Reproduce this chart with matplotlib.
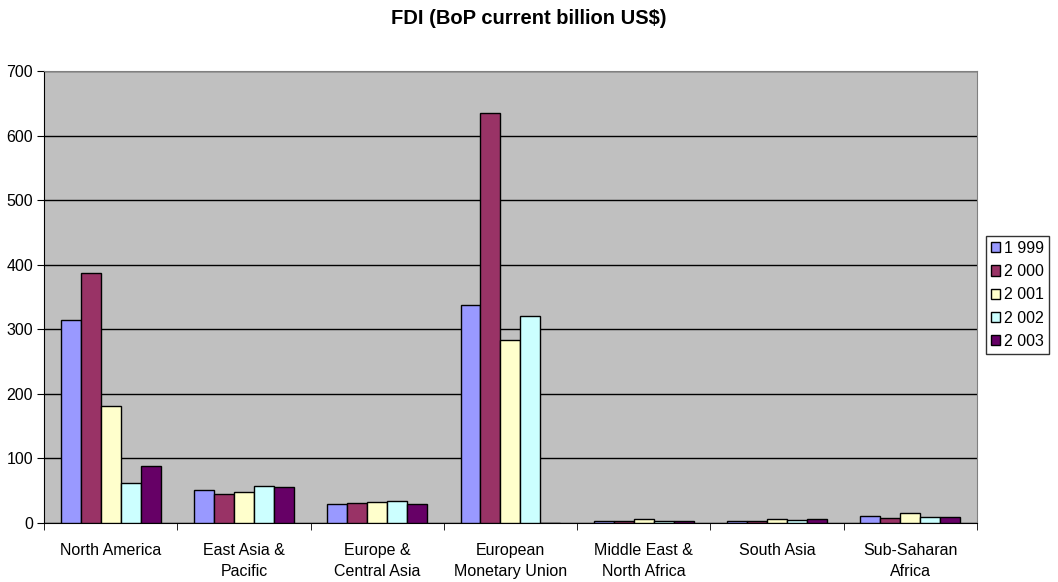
import numpy as np
import matplotlib
matplotlib.use("Agg")
import matplotlib.pyplot as plt
from matplotlib.patches import Patch

plt.rcParams['font.family'] = ['Liberation Sans', 'DejaVu Sans']

regions = ["North America", "East Asia &\nPacific", "Europe &\nCentral Asia",
           "European\nMonetary Union", "Middle East &\nNorth Africa", "South Asia",
           "Sub-Saharan\nAfrica"]
years = ["1 999", "2 000", "2 001", "2 002", "2 003"]
fdi_1999 = [315, 50, 29, 338, 3, 3, 10]
fdi_2000 = [388, 45, 30, 635, 2, 3, 6.5]
fdi_2001 = [181, 48, 32, 284, 6, 5, 15]
fdi_2002 = [61, 56, 33, 321, 3, 4.5, 8]
fdi_2003 = [88, 55, 28, 0, 2, 5.5, 9]
series = [fdi_1999, fdi_2000, fdi_2001, fdi_2002, fdi_2003]
colors = ["#9999FF", "#993366", "#FFFFCC", "#CCFFFF", "#660066"]

fig = plt.figure(figsize=(10.58, 5.82), dpi=100)
ax = fig.add_axes([0.0416, 0.1022, 0.8818, 0.775])
ax.set_facecolor("#C0C0C0")

x = np.arange(len(regions))
w = 0.15
for i, vals in enumerate(series):
    ax.bar(x + (i - 2) * w, vals, w, color=colors[i], edgecolor="black",
           linewidth=1, zorder=3)

ax.set_xlim(-0.5, len(regions) - 0.5)
ax.set_ylim(0, 700)
ax.set_yticks(range(0, 701, 100))
ax.yaxis.grid(True, color="black", linewidth=1, zorder=0)
ax.set_axisbelow(True)

ax.set_xticks(x)
ax.set_xticklabels(regions, fontsize=11.5, linespacing=1.5)
ax.tick_params(axis="x", length=0, pad=15)
ax.set_xticks(np.arange(-0.5, len(regions), 1), minor=True)
ax.tick_params(axis="x", which="minor", length=5, direction="out", color="black")
ax.tick_params(axis="y", labelsize=11.5, length=5, direction="out", pad=3)

for s in ["top", "right"]:
    ax.spines[s].set_color("#808080")
ax.spines["left"].set_color("black")
ax.spines["bottom"].set_color("black")

fig.text(0.5, 1 - 18 / 582, "FDI (BoP current billion US$)", fontsize=14.5,
         fontweight="bold", ha="center", va="center")

handles = [Patch(facecolor=c, edgecolor="black", label=y) for c, y in zip(colors, years)]
leg = fig.legend(handles=handles, loc="upper left", bbox_to_anchor=(986 / 1058, 1 - 236 / 582),
                 frameon=True, fancybox=False, edgecolor="black", fontsize=11.5,
                 handlelength=0.6, handleheight=0.6, handletextpad=0.25,
                 borderpad=0.3, labelspacing=0.52, borderaxespad=0)
leg.get_frame().set_linewidth(1)

fig.savefig("out.png", dpi=100)
